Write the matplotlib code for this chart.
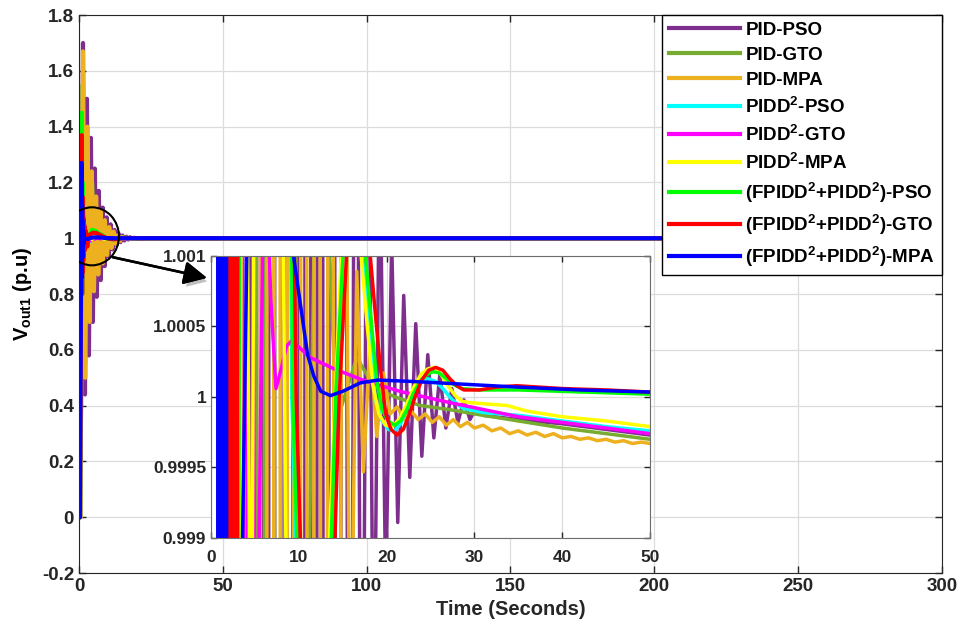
import matplotlib
matplotlib.use('Agg')
import matplotlib.pyplot as plt
import matplotlib.patheffects as pe
from matplotlib.patches import Ellipse
from matplotlib.ticker import FuncFormatter

# ---- data (time in s, voltage in p.u) ----
pid_pso_t = [0, 0.5, 1.40, 2.09, 2.77, 3.46, 4.14, 4.83, 5.51, 6.20, 6.88, 7.57, 8.25, 8.94,
             9.62, 10.31, 10.99, 11.68, 12.36, 13.05, 13.73, 14.42, 15.10, 15.79, 16.47,
             17.16, 17.84, 18.53, 19.21, 19.90, 20.58, 21.27, 21.95, 22.64, 23.32, 24.01,
             24.69, 25.38, 26.06, 26.75, 27.43, 28.12, 28.80, 29.49, 30.17, 31.0, 35.0,
             40.0, 45.0, 50.0, 300]
pid_pso_v = [0, 0, 1.70, 0.44, 1.50, 0.58, 1.36, 0.70, 1.25, 0.79, 1.17, 0.85, 1.11, 0.90,
             1.075, 0.935, 1.05, 0.96, 1.03, 0.976, 1.018, 0.986, 1.010, 0.992, 1.0058,
             0.9955, 1.0032, 0.9975, 1.0019, 0.9986, 1.0011, 0.99911, 1.00072, 0.99943,
             1.00052, 0.99958, 1.00030, 0.99971, 1.00016, 0.99978, 1.00006, 0.99982,
             0.99998, 0.99984, 0.99992, 0.99987, 0.99984, 0.99981, 0.99977, 0.99973, 1.0]

pid_gto_t = [0, 0.5, 1.3, 2.1, 2.9, 3.7, 4.6, 5.5, 6.5, 7.6, 8.8, 10.0, 12.2, 14.3, 16.6,
             18.3, 19.5, 21.0, 23.8, 27.2, 30.0, 35.0, 40.0, 45.0, 50.0, 300]
pid_gto_v = [0, 0, 1.55, 0.55, 1.35, 0.75, 1.20, 0.88, 1.08, 0.96, 1.02, 0.994, 1.003,
             0.99982, 1.00028, 1.0001, 1.00004, 1.0, 0.99994, 0.99991, 0.99988, 0.99983,
             0.99978, 0.99974, 0.9997, 1.0]

pid_mpa_t = [0, 0.5, 1.40, 2.16, 2.92, 3.68, 4.44, 5.20, 5.96, 6.72, 7.48, 8.24, 9.00, 9.76,
             10.52, 11.28, 12.04, 12.80, 13.56, 14.32, 15.08, 15.84, 16.60, 17.36, 18.12,
             18.88, 19.64, 20.40, 21.2, 22.0, 22.8, 23.6, 24.4, 25.2, 26.0, 26.8, 27.6,
             28.4, 29.2, 30.0, 31.0, 32.0, 33.0, 34.0, 35.0, 36.0, 37.0, 38.0, 39.0, 40.0,
             41.0, 42.0, 43.0, 44.0, 45.0, 46.0, 47.0, 48.0, 49.0, 50.0, 300]
pid_mpa_v = [0, 0, 1.67, 0.50, 1.40, 0.70, 1.24, 0.81, 1.15, 0.87, 1.10, 0.91, 1.065, 0.94,
             1.04, 0.965, 1.024, 0.98, 1.012, 0.99, 1.005, 0.9975, 1.00089, 0.99947,
             1.0004, 0.99972, 1.00017, 0.99988, 0.99993, 0.99984, 0.99990, 0.99984,
             0.99988, 0.99982, 0.99986, 0.99980, 0.99984, 0.99979, 0.99982, 0.99978,
             0.99980, 0.99976, 0.99978, 0.99974, 0.99976, 0.99973, 0.99975, 0.99972,
             0.99974, 0.99971, 0.99972, 0.99970, 0.99971, 0.99969, 0.99970, 0.99968,
             0.99969, 0.99967, 0.99968, 0.99967, 1.0]

pidd_pso_t = [0, 0.4, 0.95, 1.15, 1.35, 1.55, 1.75, 1.95, 2.2, 2.6, 3.0, 3.4, 4.2, 5.5, 7.3,
              8.5, 9.2, 10.4, 11.7, 12.9, 13.9, 15.0, 16.3, 17.4, 18.1, 18.7, 19.4, 20.2,
              20.9, 21.6, 22.3, 23.0, 23.8, 24.7, 25.6, 26.4, 27.2, 28.0, 28.7, 31.0, 35.0,
              40.0, 45.0, 50.0, 300]
pidd_pso_v = [0, 0, 1.30, 0.85, 1.12, 0.93, 1.05, 0.97, 1.02, 0.985, 1.008, 0.985, 1.02,
              1.025, 1.015, 1.006, 1.0, 0.9975, 0.9966, 0.9976, 0.9995, 1.0011, 1.0014,
              1.0009, 1.0004, 0.99999, 0.99984, 0.99977, 0.99976, 0.99981, 0.99992,
              1.00005, 1.00012, 1.00013, 1.00011, 1.00006, 1.0, 0.99995, 0.99992, 0.99989,
              0.99987, 0.99983, 0.99979, 0.99976, 1.0]

pidd_gto_t = [0, 0.4, 0.9, 1.1, 1.3, 1.5, 1.7, 1.95, 2.2, 2.7, 3.3, 3.9, 4.4, 5.1, 6.1, 6.8,
              7.4, 8.0, 8.6, 9.2, 11.3, 14.0, 17.3, 21.5, 27.2, 35.0, 40.0, 45.0, 50.0, 300]
pidd_gto_v = [0, 0, 1.25, 0.86, 1.12, 0.94, 1.05, 0.975, 1.02, 0.985, 1.012, 0.992, 1.006,
              0.997, 1.0022, 1.0007, 1.00006, 1.0002, 1.00036, 1.0004, 1.00028, 1.0002,
              1.00012, 1.00004, 0.99996, 0.99986, 0.99982, 0.99978, 0.99974, 1.0]

pidd_mpa_t = [0, 0.4, 0.95, 1.15, 1.35, 1.55, 1.8, 2.1, 2.5, 3.0, 3.6, 4.6, 6.0, 7.2, 8.1,
              8.6, 10.0, 11.5, 12.8, 13.8, 14.9, 16.0, 17.1, 17.8, 18.4, 19.1, 19.9, 20.7,
              21.5, 22.3, 23.1, 23.9, 24.7, 25.4, 26.2, 27.0, 27.8, 28.6, 29.5, 31.5, 33.7,
              36.0, 40.0, 45.0, 50.0, 300]
pidd_mpa_v = [0, 0, 1.22, 0.88, 1.09, 0.95, 1.04, 0.975, 1.012, 0.99, 1.006, 0.997, 1.02,
              1.012, 1.002, 0.9985, 0.9972, 0.9968, 0.9978, 0.9995, 1.0011, 1.0015, 1.0010,
              1.0005, 1.0001, 0.99988, 0.9998, 0.99979, 0.99985, 0.99995, 1.00007, 1.00016,
              1.0002, 1.00021, 1.00016, 1.00008, 1.00001, 0.99997, 0.99996, 0.99995,
              0.99994, 0.9999, 0.99986, 0.99983, 0.99979, 1.0]

fpid_pso_t = [0, 0.35, 0.95, 1.1, 1.25, 1.4, 1.55, 1.7, 1.85, 2.0, 2.3, 2.7, 3.2, 4.5, 5.8,
              7.0, 8.2, 9.3, 10.5, 11.8, 13.0, 14.2, 15.2, 16.5, 17.6, 18.3, 18.9, 19.5,
              20.2, 20.9, 21.6, 22.3, 23.0, 23.8, 24.6, 25.3, 26.0, 26.8, 27.6, 28.5, 30.5,
              35.0, 40.0, 50.0, 300]
fpid_pso_v = [0, 0, 1.45, 0.80, 1.20, 0.90, 1.08, 0.96, 1.03, 0.985, 1.01, 0.99, 1.0, 1.03,
              1.026, 1.017, 1.011, 1.0, 0.9975, 0.9965, 0.9976, 1.0, 1.0012, 1.0015, 1.0010,
              1.0005, 1.0001, 0.99991, 0.99983, 0.9998, 0.99983, 0.99991, 1.00002, 1.00011,
              1.00016, 1.00018, 1.00017, 1.00013, 1.00009, 1.00006, 1.00005, 1.00005,
              1.00004, 1.00002, 1.0]

fpid_gto_t = [0, 0.35, 1.0, 1.1, 1.2, 1.3, 1.4, 1.5, 1.6, 1.7, 1.8, 1.9, 2.0, 2.1, 2.2, 2.3,
              2.4, 2.5, 2.6, 2.7, 2.8, 2.9, 3.0, 3.6, 4.9, 6.2, 7.4, 8.6, 9.7, 10.9, 12.2,
              13.4, 14.6, 15.6, 16.9, 18.0, 18.7, 19.3, 19.9, 20.5, 21.2, 21.9, 22.6, 23.3,
              24.0, 24.8, 25.6, 26.4, 27.2, 28.0, 28.8, 30.6, 32.5, 34.8, 40.0, 45.0, 50.0,
              300]
fpid_gto_v = [0, 0, 1.37, 0.80, 1.15, 0.88, 1.10, 0.92, 1.07, 0.94, 1.05, 0.955, 1.04, 0.965,
              1.03, 0.972, 1.022, 0.978, 1.016, 0.982, 1.012, 0.97, 1.0, 1.012, 1.02, 1.018,
              1.012, 1.0055, 1.0, 0.9975, 0.9964, 0.9975, 1.0, 1.0012, 1.0016, 1.0011,
              1.0006, 1.0002, 0.99988, 0.99977, 0.99973, 0.99977, 0.99988, 1.00001, 1.00012,
              1.00019, 1.00021, 1.00019, 1.00013, 1.00008, 1.00005, 1.00005, 1.00007,
              1.00008, 1.00006, 1.00005, 1.000035, 1.0]

fpid_mpa_t = [0, 0.3, 0.9, 1.0, 1.1, 1.2, 1.3, 1.4, 1.5, 1.6, 1.7, 1.8, 2.6, 3.4, 4.2, 5.5,
              7.0, 8.5, 9.4, 10.2, 11.0, 11.7, 12.5, 13.6, 15.0, 17.0, 19.0, 23.0, 29.0,
              35.0, 42.0, 50.0, 300]
fpid_mpa_v = [0, 0, 1.27, 0.86, 1.12, 0.93, 1.06, 0.965, 1.03, 0.98, 1.015, 0.996, 0.9975,
              0.9982, 1.0015, 1.0035, 1.003, 1.0017, 1.001, 1.00065, 1.0003, 1.00015,
              1.00004, 1.00001, 1.00004, 1.0001, 1.00012, 1.00011, 1.00009, 1.00007,
              1.00005, 1.000035, 1.0]

labels = ['PID-PSO', 'PID-GTO', 'PID-MPA',
          r'PIDD$^2$-PSO', r'PIDD$^2$-GTO', r'PIDD$^2$-MPA',
          r'(FPIDD$^2$+PIDD$^2$)-PSO', r'(FPIDD$^2$+PIDD$^2$)-GTO',
          r'(FPIDD$^2$+PIDD$^2$)-MPA']
colors = ['#7E2F8E', '#77AC30', '#EDB120', '#00FFFF', '#FF00FF', '#FFFF00',
          '#00FF00', '#FF0000', '#0000FF']

main_xticks = [0, 50, 100, 150, 200, 250, 300]
main_yticks = [-0.2, 0, 0.2, 0.4, 0.6, 0.8, 1, 1.2, 1.4, 1.6, 1.8]
inset_xticks = [0, 10, 20, 30, 40, 50]
inset_yticks = [0.999, 0.9995, 1, 1.0005, 1.001]

series = [(pid_pso_t, pid_pso_v), (pid_gto_t, pid_gto_v), (pid_mpa_t, pid_mpa_v),
          (pidd_pso_t, pidd_pso_v), (pidd_gto_t, pidd_gto_v), (pidd_mpa_t, pidd_mpa_v),
          (fpid_pso_t, fpid_pso_v), (fpid_gto_t, fpid_gto_v), (fpid_mpa_t, fpid_mpa_v)]

plt.rcParams['font.family'] = ['Liberation Sans', 'DejaVu Sans']
plt.rcParams['font.weight'] = 'bold'
plt.rcParams['mathtext.fontset'] = 'custom'
plt.rcParams['mathtext.rm'] = 'Liberation Sans:bold'
plt.rcParams['mathtext.bf'] = 'Liberation Sans:bold'
plt.rcParams['mathtext.it'] = 'Liberation Sans:bold'
plt.rcParams['mathtext.default'] = 'bf'

fmt = FuncFormatter(lambda v, pos: f'{v:g}')
spine_col = '#262626'
grid_col = '#dcdcdc'

fig = plt.figure(figsize=(9.63, 6.29), dpi=100)
ax = fig.add_axes([0.082, 0.089, 0.896, 0.887])
for (t, v), c, lab in zip(series, colors, labels):
    ax.plot(t, v, color=c, lw=3, label=lab)
ax.set_xlim(0, 300)
ax.set_ylim(-0.2, 1.8)
ax.set_xticks(main_xticks)
ax.set_yticks(main_yticks)
ax.xaxis.set_major_formatter(fmt)
ax.yaxis.set_major_formatter(fmt)
ax.tick_params(direction='in', top=True, right=True, labelsize=13.5, width=1, length=5,
               colors=spine_col)
ax.grid(True, color=grid_col, lw=0.9)
ax.set_axisbelow(True)
for s in ax.spines.values():
    s.set_color(spine_col)
ax.set_xlabel('Time (Seconds)', fontsize=14.5, fontweight='bold', color=spine_col)
ax.set_ylabel(r'V$_{out1}$ (p.u)', fontsize=14.5, fontweight='bold', color='black',
              labelpad=6)

leg = ax.legend(loc='upper right', bbox_to_anchor=(1.0, 1.0), borderaxespad=0,
                fontsize=13.5, handlelength=3.8, handletextpad=0.3, labelspacing=0.42,
                borderpad=0.35, fancybox=False, framealpha=1, edgecolor='black')
leg.get_frame().set_linewidth(1.0)

# zoom marker
circle = Ellipse((4.5, 1.007), width=18.8, height=0.208, fill=False, ec='black',
                 lw=1.5, zorder=20)
ax.add_patch(circle)
ax.annotate('', xy=(44.5, 0.858), xytext=(11.8, 0.932),
            arrowprops=dict(arrowstyle='-|>,head_length=1.0,head_width=0.5', color='black',
                            lw=1.8, mutation_scale=14, shrinkA=0, shrinkB=0,
                            path_effects=[pe.withSimplePatchShadow(offset=(2, -3),
                                                                   shadow_rgbFace='gray',
                                                                   alpha=0.5),
                                          pe.Normal()]),
            zorder=21)

# inset
axins = fig.add_axes([0.2191, 0.1447, 0.4559, 0.4483])
for (t, v), c in zip(series, colors):
    axins.plot(t, v, color=c, lw=2.5)
axins.set_xlim(0, 50)
axins.set_ylim(0.999, 1.001)
axins.set_xticks(inset_xticks)
axins.set_yticks(inset_yticks)
axins.xaxis.set_major_formatter(fmt)
axins.yaxis.set_major_formatter(fmt)
axins.tick_params(direction='in', top=True, right=True, labelsize=12.5, width=1, length=4,
                  colors=spine_col)
axins.tick_params(axis='x', pad=9)
axins.grid(True, color=grid_col, lw=0.9)
axins.set_axisbelow(True)
for s in axins.spines.values():
    s.set_color('#6e6e6e')

fig.savefig('out.png', dpi=100)
